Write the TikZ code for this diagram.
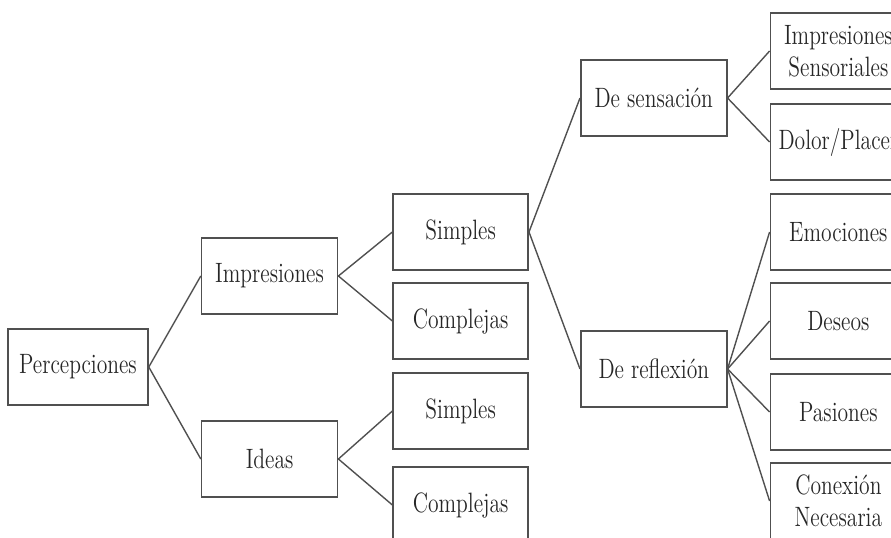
\documentclass[tikz,border=0pt]{standalone}
\usepackage{fontspec}
\setmainfont{Latin Modern Roman}[FakeStretch=0.77]
\usepackage{tikz}
\usetikzlibrary{positioning}
\definecolor{linea}{HTML}{505050}
\definecolor{texto}{HTML}{262626}
\tikzset{
    %Define style for boxes
    caja/.style={
           rectangle,
           draw=linea, line width=0.8pt,
           minimum width=68pt,
           minimum height=38pt,
           inner sep=2pt,
           font=\fontsize{14}{16}\selectfont,
           text=texto,
           align=center},
    %Define style for wider boxes
    cajaancha/.style={
           caja,
           minimum width=73pt},
    % Define line style
    rama/.style={
           -,
           draw=linea,
           line width=0.7pt}
}

\begin{document}
\begin{tikzpicture}[node distance=26pt]

 \useasboundingbox (-39pt,-85pt) rectangle (406.5pt,183.5pt);

 %nodes
\node[caja, minimum width=70pt](perc) at (0,0){Percepciones};
\node[caja, right=26pt of perc, yshift=45.5pt](imp){Impresiones};
\node[caja, right=26pt of perc, yshift=-46pt](ideas){Ideas};

\node[caja, minimum width=67.5pt, right=27pt of imp, yshift=22pt](simp1){Simples};
\node[caja, minimum width=67.5pt, right=27pt of imp, yshift=-22.5pt](comp1){Complejas};
\node[caja, minimum width=67.5pt, right=27pt of ideas, yshift=24pt](simp2){Simples};
\node[caja, minimum width=67.5pt, right=27pt of ideas, yshift=-23pt](comp2){Complejas};

\node[cajaancha, right=25.5pt of simp1, yshift=67pt](sens){De sensación};
\node[cajaancha, right=25.5pt of simp1, yshift=-68.5pt](refl){De reflexión};

\node[caja, right=21pt of sens, yshift=23.5pt](isens){Impresiones\\Sensoriales};
\node[caja, right=21pt of sens, yshift=-22pt](dolor){Dolor/Placer};
\node[caja, right=21pt of refl, yshift=68.5pt](emoc){Emociones};
\node[caja, right=21pt of refl, yshift=24pt](deseos){Deseos};
\node[caja, right=21pt of refl, yshift=-21.5pt](pasion){Pasiones};
\node[caja, right=21pt of refl, yshift=-66pt](conex){Conexión\\Necesaria};

 % branches
 \path[rama]
    (perc.east) edge (imp.west)
    (perc.east) edge (ideas.west)
    (imp.east) edge (simp1.west)
    (imp.east) edge (comp1.west)
    (ideas.east) edge (simp2.west)
    (ideas.east) edge (comp2.west)
    (simp1.east) edge (sens.west)
    (simp1.east) edge (refl.west)
    (sens.east) edge (isens.west)
    (sens.east) edge (dolor.west)
    (refl.east) edge (emoc.west)
    (refl.east) edge (deseos.west)
    (refl.east) edge (pasion.west)
    (refl.east) edge (conex.west);

\end{tikzpicture}
\end{document}
